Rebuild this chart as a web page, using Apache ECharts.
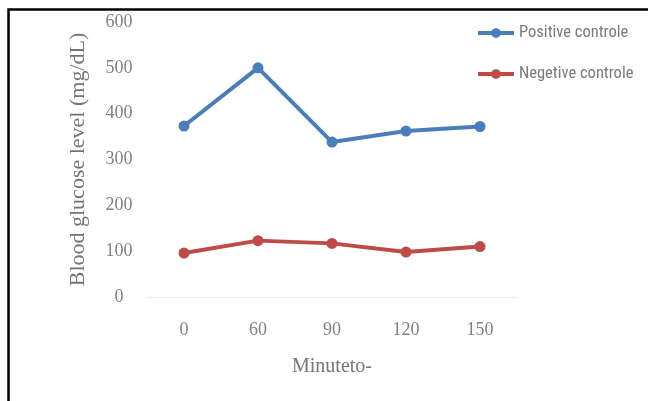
<!DOCTYPE html>
<html>
<head>
<meta charset="utf-8">
<script src="https://cdn.jsdelivr.net/npm/echarts@6/dist/echarts.min.js"></script>
<style>
  html, body { margin: 0; padding: 0; background: #fff; }
  #chart { width: 651px; height: 401px; }
</style>
</head>
<body>
<div id="chart"></div>
<script>
// Sampling times (minutes)
const minutes = ['0', '60', '90', '120', '150'];
// Blood glucose readings (mg/dL)
const positiveControl = [373, 500, 338, 362, 372];
const negativeControl = [96, 123, 117, 98, 110];
const yTicks = { min: 0, max: 600, interval: 100 };

const chart = echarts.init(document.getElementById('chart'), null, { renderer: 'canvas' });

const serif = 'Liberation Serif, Times New Roman, serif';
const sans = 'Liberation Sans Narrow, Roboto Condensed, Liberation Sans, sans-serif';

chart.setOption({
  backgroundColor: '#ffffff',
  animation: false,
  grid: { left: 147, right: 134, top: 22, bottom: 104 },
  legend: {
    orient: 'vertical',
    left: 471,
    top: 18,
    itemWidth: 36,
    itemHeight: 12,
    itemGap: 21,
    lineStyle: { width: 4 },
    textStyle: { fontFamily: sans, fontSize: 16.5, color: '#7a7a7a', lineHeight: 20 },
    data: ['Positive controle', 'Negetive controle']
  },
  xAxis: {
    type: 'category',
    data: minutes,
    boundaryGap: true,
    name: 'Minuteto-',
    nameLocation: 'middle',
    nameGap: 70,
    nameTextStyle: { fontFamily: serif, fontSize: 20, color: '#767676', verticalAlign: 'middle' },
    axisLine: { show: true, lineStyle: { color: '#ececec', width: 1 } },
    axisTick: { show: false },
    axisLabel: { fontFamily: serif, fontSize: 18, color: '#808080', margin: 24 },
    splitLine: { show: false }
  },
  yAxis: {
    type: 'value',
    min: yTicks.min,
    max: yTicks.max,
    interval: yTicks.interval,
    name: 'Blood glucose level (mg/dL)',
    nameLocation: 'middle',
    nameGap: 69,
    nameRotate: 90,
    nameTextStyle: { fontFamily: serif, fontSize: 22, color: '#747474', verticalAlign: 'middle' },
    axisLine: { show: false },
    axisTick: { show: false },
    axisLabel: { fontFamily: serif, fontSize: 18, color: '#808080', align: 'center', margin: 28 },
    splitLine: { show: false }
  },
  series: [
    {
      name: 'Positive controle',
      type: 'line',
      data: positiveControl,
      symbol: 'circle',
      symbolSize: 11,
      color: '#4a7ebb',
      lineStyle: { width: 4, color: '#4a7ebb' },
      itemStyle: { color: '#4a7ebb' }
    },
    {
      name: 'Negetive controle',
      type: 'line',
      data: negativeControl,
      symbol: 'circle',
      symbolSize: 11,
      color: '#be4b48',
      lineStyle: { width: 4, color: '#be4b48' },
      itemStyle: { color: '#be4b48' }
    }
  ],
  graphic: [
    {
      type: 'polyline',
      shape: { points: [[8.5, 401], [8.5, 9.5], [648, 9.5]] },
      style: { stroke: '#000000', lineWidth: 2.5, fill: null }
    }
  ]
});
</script>
</body>
</html>
